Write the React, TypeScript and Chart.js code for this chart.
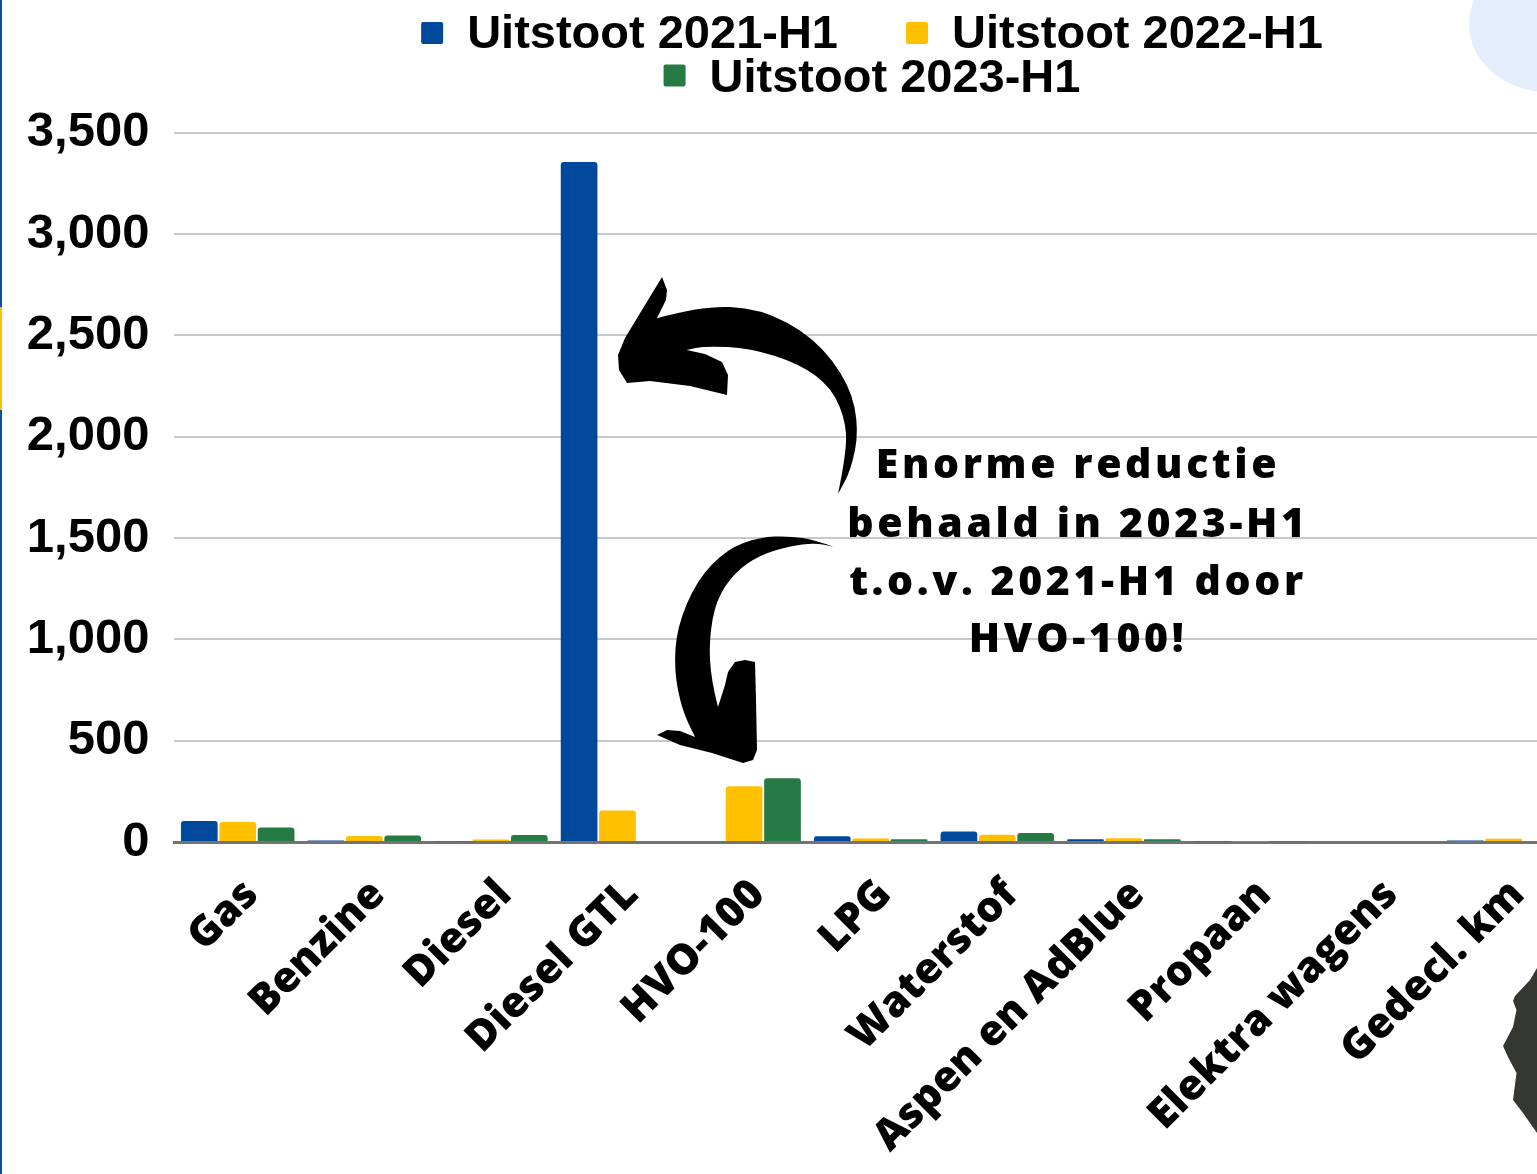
import React, { useEffect, useRef } from "react";
import { Chart, registerables } from "chart.js";

Chart.register(...registerables);

// ---------------- data ----------------
const categories = [
  "Gas",
  "Benzine",
  "Diesel",
  "Diesel GTL",
  "HVO-100",
  "LPG",
  "Waterstof",
  "Aspen en AdBlue",
  "Propaan",
  "Elektra wagens",
  "Gedecl. km",
];
const seriesLabels = ["Uitstoot 2021-H1", "Uitstoot 2022-H1", "Uitstoot 2023-H1"];
const uitstoot2021 = [104, 7, 4, 3355, 0, 28, 52, 14, 4, 0, 8];
const uitstoot2022 = [99, 30, 12, 156, 275, 17, 36, 18, 4, 0, 16];
const uitstoot2023 = [72, 32, 35, 0, 314, 13, 45, 14, 3, 0, 0];
const yTickValues = [0, 500, 1000, 1500, 2000, 2500, 3000, 3500];
const annotationLines = [
  "Enorme reductie",
  "behaald in 2023-H1",
  "t.o.v. 2021-H1 door",
  "HVO-100!",
];

const COLORS = ["#00489B", "#FFC000", "#267A44"];

const CANVAS_W = 1580;
const CANVAS_H = 1174;

type P = [number, number];

function smoothTo(ctx: CanvasRenderingContext2D, pts: P[]) {
  for (let i = 0; i < pts.length - 1; i++) {
    const mx = (pts[i][0] + pts[i + 1][0]) / 2;
    const my = (pts[i][1] + pts[i + 1][1]) / 2;
    ctx.quadraticCurveTo(pts[i][0], pts[i][1], mx, my);
  }
  const last = pts[pts.length - 1];
  ctx.lineTo(last[0], last[1]);
}
function linesTo(ctx: CanvasRenderingContext2D, pts: P[]) {
  pts.forEach((p) => ctx.lineTo(p[0], p[1]));
}

const decorPlugin = {
  id: "decor",
  beforeDraw(chart: any) {
    const ctx: CanvasRenderingContext2D = chart.ctx;
    ctx.save();
    // light blue blob top right
    ctx.fillStyle = "#E3EDFB";
    ctx.beginPath();
    ctx.ellipse(1548, 24, 79, 68, 0, 0, Math.PI * 2);
    ctx.fill();
    ctx.restore();
  },
  afterDatasetsDraw(chart: any) {
    const ctx: CanvasRenderingContext2D = chart.ctx;
    ctx.save();
    ctx.fillStyle = "#000";
    // upper arrow
    ctx.beginPath();
    ctx.moveTo(656.7, 318.3);
    smoothTo(ctx, [
      [700, 306],
      [760, 308],
      [815, 338],
      [850, 385],
      [859, 430],
      [851, 470],
      [838, 494],
    ]);
    smoothTo(ctx, [
      [845, 460],
      [847, 425],
      [832, 388],
      [800, 364],
      [750, 348],
      [705, 346],
      [686.7, 350],
    ]);
    linesTo(ctx, [
      [705, 354],
      [722, 362],
      [728, 375],
      [727, 395],
      [690, 386],
      [650, 381],
      [627, 383],
      [619, 370],
      [618, 355],
      [625, 338],
      [662, 277],
      [667, 290],
      [666, 300],
      [657, 318],
    ]);
    ctx.closePath();
    ctx.fill();

    // lower arrow
    ctx.beginPath();
    ctx.moveTo(833.3, 546.7);
    smoothTo(ctx, [
      [815, 540],
      [790, 536],
      [760, 537],
      [727, 549],
      [697, 580],
      [677, 627],
      [674, 670],
      [682, 710],
      [695, 737],
    ]);
    linesTo(ctx, [
      [680, 731],
      [667, 730],
      [657, 735],
      [680, 745],
      [712, 753],
      [743, 763],
      [753, 760],
      [757, 750],
      [756, 700],
      [755, 662],
      [745, 660],
      [735, 662],
      [728, 672],
      [725, 685],
      [718, 707],
    ]);
    smoothTo(ctx, [
      [711, 680],
      [709, 640],
      [716, 600],
      [735, 572],
      [760, 555],
      [790, 546],
      [815, 543],
      [833.3, 546.7],
    ]);
    ctx.closePath();
    ctx.fill();

    // annotation text
    ctx.font = '800 41px "Open Sans"';
    (ctx as any).letterSpacing = "3.6px";
    ctx.textAlign = "center";
    ctx.textBaseline = "alphabetic";
    const baselines = [478, 537, 595, 652];
    annotationLines.forEach((t, i) => ctx.fillText(t, 1078, baselines[i]));
    ctx.restore();
  },
  afterDraw(chart: any) {
    const ctx: CanvasRenderingContext2D = chart.ctx;
    ctx.save();
    // left edge stripes
    ctx.fillStyle = "#0B4EA2";
    ctx.fillRect(0, 0, 2, CANVAS_H);
    ctx.fillStyle = "#FFC000";
    ctx.fillRect(0, 307, 2, 103);

    // dark gear shape bottom right
    ctx.fillStyle = "#353830";
    ctx.beginPath();
    ctx.moveTo(1537, 968);
    linesTo(ctx, [
      [1530, 980],
      [1515, 996],
      [1513, 1001],
      [1516.5, 1010],
      [1513, 1027],
      [1503, 1046],
      [1508, 1057],
      [1516.5, 1073],
      [1513, 1100],
      [1523, 1113],
      [1537, 1133],
      [1560, 1133],
      [1560, 968],
    ]);
    ctx.closePath();
    ctx.fill();

    // legend
    const ds = chart.data.datasets;
    ctx.font = 'bold 47px "Liberation Sans", Arial, sans-serif';
    (ctx as any).letterSpacing = "0px";
    ctx.textAlign = "left";
    ctx.textBaseline = "alphabetic";
    const rows = [[0, 1], [2]];
    const box = 22;
    const boxGap = 24;
    const itemGap = 68;
    const cx = 872;
    rows.forEach((row, r) => {
      const widths = row.map((i) => box + boxGap + ctx.measureText(ds[i].label).width);
      const total = widths.reduce((a, b) => a + b, 0) + itemGap * (row.length - 1);
      let x = cx - total / 2;
      const boxTop = 22 + r * 42.5;
      const baseline = 48 + r * 44;
      row.forEach((i, k) => {
        ctx.fillStyle = ds[i].backgroundColor;
        ctx.beginPath();
        (ctx as any).roundRect(x, boxTop, box, box, 2);
        ctx.fill();
        ctx.fillStyle = "#000";
        ctx.fillText(ds[i].label, x + box + boxGap, baseline);
        x += widths[k] + itemGap;
      });
    });
    ctx.restore();
  },
};

export default function App() {
  const ref = useRef<HTMLCanvasElement | null>(null);

  useEffect(() => {
    if (!ref.current) return;
    const seriesData = [uitstoot2021, uitstoot2022, uitstoot2023];
    const chart = new Chart(ref.current, {
      type: "bar",
      data: {
        labels: categories,
        datasets: seriesLabels.map((label, i) => ({
          label,
          data: seriesData[i],
          backgroundColor: COLORS[i],
          borderRadius: 3,
          borderSkipped: "bottom",
          categoryPercentage: 0.91,
          barPercentage: 0.955,
        })),
      },
      options: {
        responsive: false,
        maintainAspectRatio: false,
        animation: false,
        devicePixelRatio: 1,
        layout: {
          padding: { top: 132.7, left: 0, right: CANVAS_W - 1567, bottom: 0 },
        },
        plugins: {
          legend: { display: false },
          tooltip: { enabled: false },
          title: { display: false },
        },
        scales: {
          x: {
            grid: { display: false, drawTicks: false },
            border: { display: true, color: "#737373", width: 3 },
            ticks: {
              autoSkip: false,
              maxRotation: 45,
              minRotation: 45,
              padding: 28,
              labelOffset: 14,
              color: "#000",
              font: { family: '"Open Sans", sans-serif', weight: "800", size: 42 },
            },
            afterFit: (s: any) => {
              s.height = CANVAS_H - 842;
            },
          },
          y: {
            min: 0,
            max: 3500,
            afterBuildTicks: (s: any) => {
              s.ticks = yTickValues.map((v) => ({ value: v }));
            },
            grid: { color: "#C8C8C8", lineWidth: 2, drawTicks: false },
            border: { display: false },
            ticks: {
              padding: 25,
              color: "#000",
              font: { family: '"Liberation Sans", Arial, sans-serif', weight: "bold", size: 49 },
              callback: (v: any) => Number(v).toLocaleString("en-US"),
            },
            afterFit: (s: any) => {
              s.width = 174.4;
            },
          },
        },
      },
      plugins: [decorPlugin],
    });
    return () => chart.destroy();
  }, []);

  return (
    <div
      style={{
        position: "fixed",
        left: 0,
        top: 0,
        width: CANVAS_W,
        height: CANVAS_H,
        background: "#fff",
      }}
    >
      <canvas ref={ref} width={CANVAS_W} height={CANVAS_H} style={{ width: CANVAS_W, height: CANVAS_H, display: "block" }} />
    </div>
  );
}
